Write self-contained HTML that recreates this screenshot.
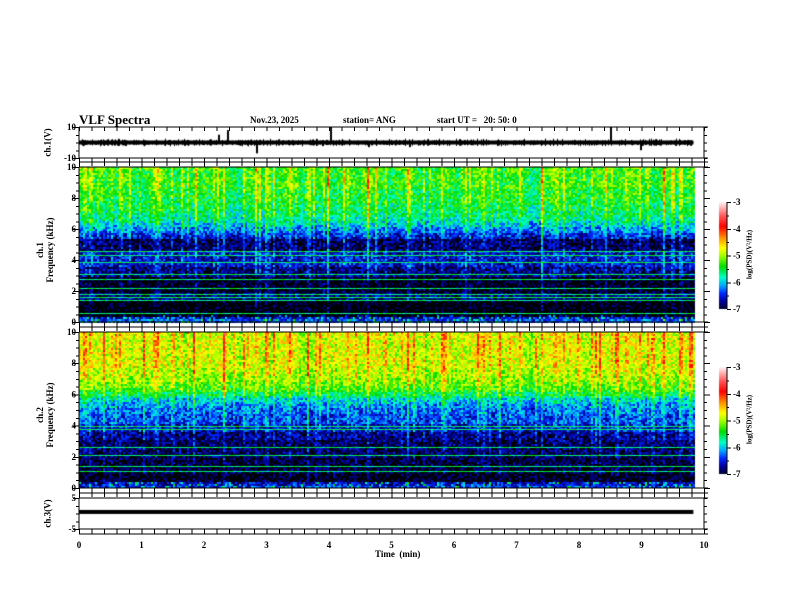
<!DOCTYPE html>
<html><head><meta charset="utf-8"><style>
body{margin:0;background:#fff;}
#wrap{position:relative;width:792px;height:612px;overflow:hidden;font-family:"Liberation Serif",serif;font-weight:bold;color:#000;}
.t{position:absolute;font-size:9px;white-space:nowrap;line-height:1;}
.r{transform:rotate(-90deg);transform-origin:center center;}
canvas,svg{position:absolute;left:0;top:0;}
</style></head><body>
<div id="wrap">
<canvas id="cv" width="792" height="612"></canvas>
<svg id="ax" width="792" height="612"></svg>
<div class="t" style="left:79px;top:113px;font-size:13px">VLF Spectra</div>
<div class="t" style="left:250px;top:116px">Nov.23, 2025</div>
<div class="t" style="left:343px;top:116px">station= ANG</div>
<div class="t" style="left:437px;top:116px">start UT =&nbsp;&nbsp; 20: 50: 0</div>
<div class="t" style="left:375px;top:550px">Time&nbsp; (min)</div>
<div class="t r" style="left:28px;top:138px;width:40px;text-align:center">ch.1(V)</div>
<div class="t r" style="left:10px;top:240px;width:70px;text-align:center;line-height:10px;white-space:normal">ch.1<br>Frequency (kHz)</div>
<div class="t r" style="left:10px;top:405px;width:70px;text-align:center;line-height:10px;white-space:normal">ch.2<br>Frequency (kHz)</div>
<div class="t r" style="left:28px;top:509px;width:40px;text-align:center">ch.3(V)</div>
<div class="t r" style="left:710px;top:251px;width:80px;text-align:center;font-size:7px">log(PSD)(V²/Hz)</div>
<div class="t r" style="left:710px;top:416px;width:80px;text-align:center;font-size:7px">log(PSD)(V²/Hz)</div>
</div>
<script>
// ---- data ----
const xTicks=[0,1,2,3,4,5,6,7,8,9,10];
const freqTicks=[0,2,4,6,8,10];
const cbTicks=[-3,-4,-5,-6,-7];
const ch1Profile=[-6.4,-6.6,-7.2,-7.2,-7.2,-7.2,-7.2,-6.8,-6.8,-6.8,-7.1,-7.1,-7.1,-7.1,-7.1,-6.8,-6.8,-6.8,-6.6,-6.6,-6.6,-6.6,-6.6,-6.9,-6.9,-6.9,-6.9,-6.6,-6.5,-6.3,-6.2,-6.0,-5.9,-5.8,-5.7,-5.7,-5.6,-5.6,-5.6,-5.5,-5.5,-5.5,-5.5,-5.4,-5.4,-5.4,-5.4,-5.4,-5.4,-5.4];
const ch2Profile=[-6.4,-6.6,-7.1,-7.1,-7.1,-7.0,-7.0,-7.0,-7.0,-7.0,-6.9,-6.9,-6.9,-6.9,-6.9,-6.9,-6.8,-6.8,-6.6,-6.6,-6.6,-6.4,-6.4,-6.4,-6.3,-6.3,-6.2,-6.1,-6.0,-5.8,-5.6,-5.4,-5.3,-5.2,-5.1,-5.1,-5.0,-5.0,-5.0,-4.9,-4.9,-4.9,-4.9,-4.9,-4.9,-4.9,-4.9,-4.9,-4.9,-4.9];
const ch1Lines=[0.6,1.4,1.6,1.8,2.2,2.8,3.1,3.9,4.3,4.6];
const ch2Lines=[1.1,1.4,2.1,2.6,3.8,4.0];
const activity=[0.3,0.2,0.1,0.2,0.0,-0.1,0.1,0.2,0.0,-0.2,0.1,0.2,0.3,0.1,0.0,-0.1,-0.2,0.0,0.2,0.1,0.0,0.1,0.2,0.0,-0.1,-0.2,0.1,0.2,0.1,0.0,-0.1,0.0,0.2,0.3,0.1,-0.1,-0.2,0.0,0.1,0.0,-0.1,0.1,0.2,0.1,0.0,0.2,0.3,0.2,0.0,-0.1,0.0,0.1,0.2,0.1,-0.1,-0.2,0.0,0.1,0.2,0.0,-0.1,0.0,0.1,0.2,0.3,0.1,0.0,-0.1,0.1,0.2,0.1,0.0,-0.2,-0.1,0.1,0.2,0.3,0.2,0.0,0.1,0.0,-0.1,0.1,0.2,0.1,0.0,0.1,0.2,0.3,0.1,0.0,-0.1,0.0,0.2,0.1,0.0,0.1,0.2,0.1,0.0];
const streakTimes=[0.08,0.17,0.5,0.95,1.2,1.48,1.72,2.3,2.62,2.83,3.1,3.35,3.65,3.98,4.3,4.6,4.9,5.25,5.5,5.8,6.1,6.45,6.7,7.05,7.4,7.6,7.85,8.2,8.5,8.75,8.95,9.1,9.35,9.6];
const streakAmp=[1.0,0.7,0.9,0.6,0.8,0.7,0.8,0.9,0.6,0.8,0.7,0.8,0.6,0.8,0.7,0.8,0.6,0.8,0.7,0.8,0.6,0.8,0.7,0.8,0.9,0.7,0.6,0.8,0.7,0.8,0.9,1.0,0.7,0.6];
const ch1Spikes=[[2.23,5],[2.37,8],[2.83,-7],[4.02,10],[4.62,-3],[5.28,-3],[8.5,10],[8.98,-5]];
const ch3Level=0.5;
const tEnd=9.83;
// ---- axes ----
const X0=79,X1=704;
const sx=t=>X0+t*(X1-X0)/10;
const P1={top:167,bot:322},P2={top:332,bot:488};
const fy=(p,f)=>p.bot-(f/10)*(p.bot-p.top);
const vy1=v=>142.5-v*1.55, vy3=v=>513.5-v*3.1;
function hash(a,b){let h=(a*374761393+b*668265263)>>>0;h=((h^(h>>>13))*1274126177)>>>0;return ((h^(h>>>16))>>>0)/4294967296;}
const stops=[[-7,0,0,40],[-6.7,0,0,150],[-6.4,0,40,255],[-6.1,0,170,255],[-5.8,0,255,200],[-5.4,0,220,0],[-5.0,160,255,0],[-4.7,255,255,0],[-4.3,255,140,0],[-3.9,255,0,0],[-3.5,255,90,90],[-3,255,240,240]];
function cmap(v){if(v<=-7.05)return[0,0,0];if(v<=stops[0][0])return stops[0].slice(1);for(let i=1;i<stops.length;i++){if(v<=stops[i][0]){const a=stops[i-1],b=stops[i],k=(v-a[0])/(b[0]-a[0]);return[0,1,2].map(j=>Math.round(a[j+1]+k*(b[j+1]-a[j+1])));}}return stops[stops.length-1].slice(1);}
const cv=document.getElementById('cv'),c=cv.getContext('2d');
function spec(p,prof,lines,seed){
  const xe=sx(tEnd),h=p.bot-p.top;
  for(let x=X0;x<xe;x+=2){
    const t=(x-X0)/(X1-X0)*10;
    const act=activity[Math.min(activity.length-1,Math.floor(t/10*activity.length))];
    let st=0;streakTimes.forEach((s,i)=>{const d=Math.abs(t-s);if(d<0.025)st=Math.max(st,streakAmp[i]*(1-d/0.025));});
    const colN=hash(x,seed)<0.15?hash(x,seed+7)*0.8:0;
    for(let y=p.top;y<p.bot;y+=2){
      const f=(p.bot-y)/h*10;
      let v=prof[Math.min(49,Math.floor(f/0.2))]+act*(f/12)+(hash(x*3+seed,y)-0.5)*0.8+colN*(0.2+f/12)+st*(0.2+f/12);
      if(f<0.5&&hash(x,y+seed)<0.15)v+=0.8;
      const col=cmap(v);c.fillStyle=`rgb(${col[0]},${col[1]},${col[2]})`;c.fillRect(x,y,2,2);
    }
  }
  lines.forEach((L,i)=>{const y=Math.round(fy(p,L));
    for(let x=X0;x<xe;x+=2){const v=-5.6+(hash(x,i*13+seed)-0.5)*0.6;const col=cmap(v);c.fillStyle=`rgb(${col[0]},${col[1]},${col[2]})`;c.fillRect(x,y,2,1);}});
}
spec(P1,ch1Profile,ch1Lines,11);spec(P2,ch2Profile,ch2Lines,29);
// trace ch1
c.strokeStyle='#000';c.lineWidth=1;c.beginPath();
for(let x=X0;x<=sx(tEnd);x++){const v=(hash(x,3)-0.5)*5;c.moveTo(x+0.5,vy1(v));c.lineTo(x+0.5,vy1(-v*0.8-0.3));}
c.stroke();
c.fillStyle='#000';c.fillRect(X0,vy1(0)-2,sx(tEnd)-X0,4);
ch1Spikes.forEach(s=>{const x=Math.round(sx(s[0]));c.fillRect(x,Math.min(vy1(0),vy1(s[1])),2,Math.abs(vy1(s[1])-vy1(0)));});
// ch3
c.fillRect(X0,vy3(ch3Level)-2,sx(tEnd)-X0,4);
// colorbars
function cbar(top,bot){for(let y=top;y<bot;y++){const v=-3-(y-top)/(bot-top)*4;const col=cmap(v);c.fillStyle=`rgb(${col[0]},${col[1]},${col[2]})`;c.fillRect(719,y,8,1);}}
cbar(202,309);cbar(367,474);
// SVG axes
const svg=document.getElementById('ax');const NS='http://www.w3.org/2000/svg';
function el(tag,a,name){const e=document.createElementNS(NS,tag);for(const k in a)e.setAttribute(k,a[k]);


svg.appendChild(e);return e;}
function line(x1,y1,x2,y2,name){return el('line',{x1,y1,x2,y2,stroke:'#000','stroke-width':1,'shape-rendering':'crispEdges'},name);}
function txt(x,y,s,anchor,name){const e=el('text',{x,y,'font-family':'Liberation Serif,serif','font-weight':'bold','font-size':9,'text-anchor':anchor},name);e.textContent=s;return e;}
const frames=[[127,158],[167,322],[332,488],[498,529]];
frames.forEach((f,i)=>{line(X0,f[0],X1+4,f[0],'panel-top-border');line(X0,f[1],X1+4,f[1],'panel-bottom-border');line(X0,f[0],X0,f[1],'panel-left-border');line(X1,f[0],X1,f[1],'panel-right-border');});
[162,327,493,534].forEach(y=>line(X0,y,X1+4,y,'separator-line'));
const gaps=[[158,162],[322,327],[488,493],[529,534],[127,131]];
for(let i=0;i<=50;i++){const x=sx(i/5)+0.5;const maj=i%5==0;
 gaps.forEach(g=>line(x,g[0],x,g[1],'x-tick'));
 [[162,166],[327,331],[493,497]].forEach(g=>line(x,g[0],x,maj?g[1]+1:g[1],'x-tick'));}
xTicks.forEach(t=>txt(sx(t),548,String(t),'middle','x-tick-label'));
[P1,P2].forEach(p=>{for(let k=0;k<=20;k++){const y=fy(p,k/2)+0.5;const w=k%4==0?6:3;line(X0-w,y,X0,y,'y-tick');line(X1,y,X1+w,y,'y-tick-right');}
freqTicks.forEach(f=>txt(X0-3,fy(p,f)+3,String(f),'end','freq-tick-label'));});
[[127,158],[498,529]].forEach(f=>{for(let k=0;k<=4;k++){const y=f[0]+k*(f[1]-f[0])/4+0.5;line(X0-(k%4==0?6:3),y,X0,y,'y-tick');line(X1,y,X1+3,y,'y-tick-right');}});
txt(X0-3,130,'10','end','ch1-max-label');txt(X0-3,161,'-10','end','ch1-min-label');
txt(X0-3,501,'5','end','ch3-max-label');txt(X0-3,532,'-5','end','ch3-min-label');
[[202,309],[367,474]].forEach(b=>{for(let k=0;k<=8;k++){const y=b[0]+k*(b[1]-b[0])/8+0.5;line(727,y,k%2==0?731:729,y,'colorbar-tick');}
cbTicks.forEach((v,i)=>txt(733,b[0]+i*(b[1]-b[0])/4+3,String(v),'start','colorbar-tick-label'));
line(727,b[0],727,b[1],'colorbar-axis');});
</script>
</body></html>
